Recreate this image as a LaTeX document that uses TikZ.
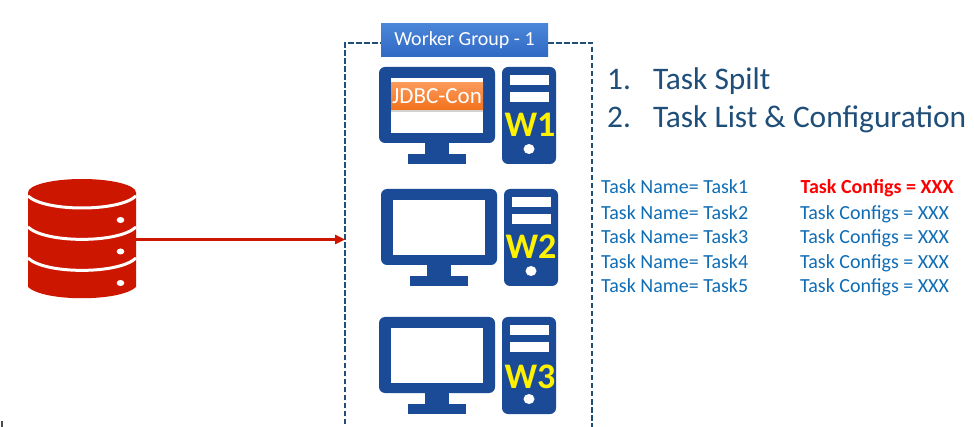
\documentclass[tikz,border=0pt]{standalone}
\usepackage{fontspec}
\setmainfont{Carlito}
\usetikzlibrary{arrows.meta,shadows,calc}
\definecolor{iconblue}{HTML}{1B4B97}
\definecolor{dashblue}{HTML}{1F4E79}
\definecolor{dbred}{HTML}{CC1600}
\definecolor{textblue}{HTML}{0F6DB5}
\definecolor{headblue}{HTML}{1F4E79}
\definecolor{groupblue}{HTML}{3068C4}
\definecolor{groupblueb}{HTML}{4A86D8}
\definecolor{conntop}{HTML}{FB9A5A}
\definecolor{connbot}{HTML}{F2711C}
\tikzset{
  iconfill/.style={fill=iconblue,draw=none},
  slot/.style={fill=white,draw=none},
  wlabel/.style={font=\bfseries\fontsize{36}{36}\selectfont,text=yellow,inner sep=0pt},
  tasktext/.style={font=\fontsize{20}{20}\selectfont,text=textblue,anchor=base west,inner sep=0pt},
  cfgred/.style={font=\bfseries\fontsize{20}{20}\selectfont,text=red,anchor=base west,inner sep=0pt},
  headtext/.style={font=\fontsize{31.4}{31.4}\selectfont,text=headblue,anchor=base west,inner sep=0pt},
  dbsep/.style={draw=white,line width=3pt},
  dbdot/.style={fill=white,draw=none},
  grouplabel/.style={top color=groupblueb,bottom color=groupblue,draw=none,text=white,
    font=\fontsize{20}{20}\selectfont,minimum width=167pt,minimum height=33pt,inner sep=0pt},
  connbox/.style={top color=conntop,bottom color=connbot,draw=none,text=white,
    font=\fontsize{23}{23}\selectfont,minimum width=92pt,minimum height=27pt,inner sep=0pt,
    drop shadow={shadow xshift=0pt,shadow yshift=-2pt,opacity=.35}},
  flow/.style={draw=dbred,line width=2.4pt,-{Triangle[length=10pt,width=9pt]}}
}
% #1 x-shift, #2 y-shift
\newcommand{\workericon}[2]{%
  \begin{scope}[shift={(#1,#2)}]
    \fill[iconfill,rounded corners=6pt] (379,67) rectangle (495,143);
    \fill[iconfill] (425,142) rectangle (449,155);
    \fill[iconfill] (408,154) rectangle (466,164);
    \fill[slot] (391,78) rectangle (483,133);
    \fill[iconfill,rounded corners=6pt] (502,67) rectangle (556,164);
    \fill[slot] (510,75) rectangle (549,85);
    \fill[slot] (510,92) rectangle (549,102);
    \fill[slot] (529,149) ellipse [x radius=5.5,y radius=5];
  \end{scope}}
\begin{document}
\begin{tikzpicture}[x=1pt,y=-1pt]
\useasboundingbox (0,0) rectangle (974,427);
\fill[white] (0,0) rectangle (974,427);

% database
\fill[dbred] (28,192.5) -- (136,192.5) -- (136,287)
  .. controls (120,302) and (44,302) .. (28,287) -- cycle;
\fill[dbred] (82,192.5) ellipse [x radius=54,y radius=13.5];
\draw[dbsep] (28,196) .. controls (45,212) and (119,212) .. (136,196);
\draw[dbsep] (28,227) .. controls (45,243.5) and (119,243.5) .. (136,227);
\draw[dbsep] (28,258) .. controls (45,274.5) and (119,274.5) .. (136,258);
\fill[dbdot] (120.5,220) ellipse [x radius=3.8,y radius=3];
\fill[dbdot] (120.5,251.5) ellipse [x radius=3.8,y radius=3];
\fill[dbdot] (120.5,283) ellipse [x radius=3.8,y radius=3];
\coordinate (dbout) at (136,239.5);

% group frame
\draw[dashblue,line width=2.4pt,dash pattern=on 5.5pt off 2.5pt] (345,440) -- (345,43) -- (592,43) -- (592,440);
\coordinate (framein) at (345,239.5);
\node[grouplabel] (group) at (464.5,40.5) {Worker Group - 1};

% workers
\workericon{0}{0}
\workericon{2}{122}
\workericon{0}{250}
\node[connbox] (conn) at (437,96.5) {JDBC-Con};
\node[wlabel] (w1) at (530,125) {W1};
\node[wlabel] (w2) at (531,247) {W2};
\node[wlabel] (w3) at (530,377) {W3};

% connector
\draw[flow] (dbout) -- (framein);

% headings
\node[headtext] (h1) at (607,89.5) {1.\hspace{22pt}Task Spilt};
\node[headtext] (h2) at (607,127.5) {2.\hspace{22pt}Task List \& Configuration};

% tasks
\node[tasktext] (t1) at (601,194) {Task Name= Task1};
\node[tasktext] (t2) at (601,219.5) {Task Name= Task2};
\node[tasktext] (t3) at (601,244) {Task Name= Task3};
\node[tasktext] (t4) at (601,268.5) {Task Name= Task4};
\node[tasktext] (t5) at (601,293) {Task Name= Task5};
\node[cfgred] (c1) at (800.5,194) {Task Configs = XXX};
\node[tasktext] (c2) at (800,219.5) {Task Configs = XXX};
\node[tasktext] (c3) at (800,244) {Task Configs = XXX};
\node[tasktext] (c4) at (800,268.5) {Task Configs = XXX};
\node[tasktext] (c5) at (800,293) {Task Configs = XXX};

% stray tick at the lower left
\fill[black!70] (1,421) rectangle (3,427);
\end{tikzpicture}
\end{document}
